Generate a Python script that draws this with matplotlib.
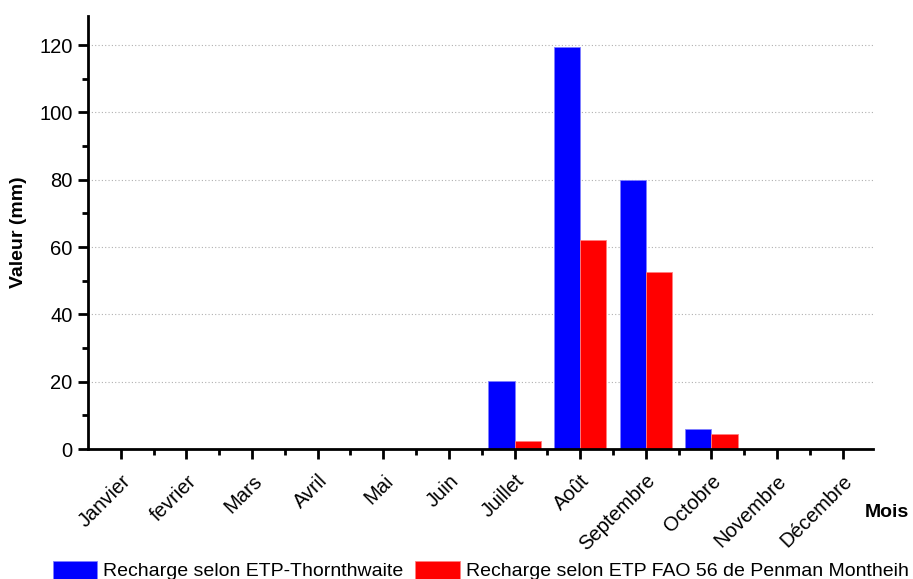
import matplotlib
matplotlib.use("Agg")
import matplotlib.pyplot as plt
import numpy as np
from matplotlib.ticker import MultipleLocator, FixedLocator

plt.rcParams['font.family'] = ['Liberation Sans', 'DejaVu Sans']

mois = ["Janvier", "fevrier", "Mars", "Avril", "Mai", "Juin", "Juillet",
        "Août", "Septembre", "Octobre", "Novembre", "Décembre"]
recharge_thornthwaite = [0, 0, 0, 0, 0, 0, 20.2, 119.4, 80.0, 5.9, 0, 0]
recharge_penman = [0, 0, 0, 0, 0, 0, 2.4, 62.1, 52.6, 4.5, 0, 0]

fig = plt.figure(figsize=(9.13, 5.79), dpi=100)
ax = fig.add_axes([0.0964, 0.2245, 0.8596, 0.7475])

x = np.arange(len(mois))
w = 0.4
ax.bar(x - w / 2, recharge_thornthwaite, width=w, color="#0000ff",
       edgecolor="#8080ff", linewidth=0.6, label="Recharge selon ETP-Thornthwaite", zorder=3)
ax.bar(x + w / 2, recharge_penman, width=w, color="#ff0000",
       edgecolor="#ff8080", linewidth=0.6, label="Recharge selon ETP FAO 56 de Penman Montheih", zorder=3)

ax.set_xlim(-0.5, 11.46)
ax.set_ylim(0, 128.6)

ax.spines['top'].set_visible(False)
ax.spines['right'].set_visible(False)
for s in ('left', 'bottom'):
    ax.spines[s].set_linewidth(2)
    ax.spines[s].set_zorder(4)

ax.yaxis.set_major_locator(MultipleLocator(20))
ax.yaxis.set_minor_locator(MultipleLocator(10))
ax.set_xticks(x)
ax.set_xticklabels(mois, rotation=45, ha='right', rotation_mode='anchor')
ax.xaxis.set_minor_locator(FixedLocator(np.arange(0.5, 11.5, 1.0)))

ax.tick_params(axis='both', which='major', direction='out', length=7, width=2,
               labelsize=14.5, colors='black')
ax.tick_params(axis='both', which='minor', direction='out', length=4, width=2)
ax.tick_params(axis='x', which='major', pad=9)
ax.tick_params(axis='y', which='major', pad=4)

for yv in range(20, 121, 20):
    ax.axhline(yv, color='#b0b0b0', linestyle=(0, (1, 2)), linewidth=0.8, zorder=1)

ax.set_ylabel("Valeur (mm)", fontsize=14, fontweight='bold', labelpad=9)
fig.text(0.947, 0.115, "Mois", fontsize=14, fontweight='bold', ha='left', va='center')

fig.legend(loc='lower left', bbox_to_anchor=(0.049, -0.016), ncol=2, frameon=False,
           fontsize=14, handlelength=2.3, handleheight=1.05, columnspacing=0.6,
           handletextpad=0.3, borderaxespad=0)

fig.savefig("out.png", dpi=100, facecolor='white')
